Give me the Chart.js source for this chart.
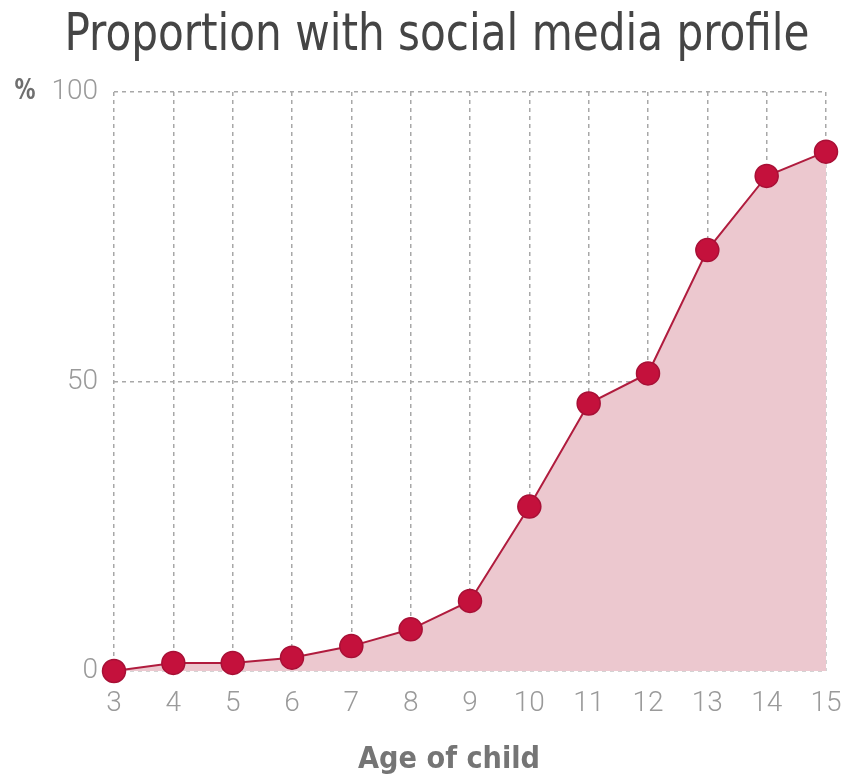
<!DOCTYPE html>
<html>
<head>
<meta charset="utf-8">
<script src="https://cdn.jsdelivr.net/npm/chart.js@4/dist/chart.umd.min.js"></script>
<style>
  html, body { margin: 0; padding: 0; background: #fff; }
  #wrap { width: 851px; height: 781px; }
</style>
</head>
<body>
<div id="wrap"><canvas id="profileChart" width="851" height="781"></canvas></div>
<script>
// 年齢ごとのSNSプロフィール保有率
const ages = ['3', '4', '5', '6', '7', '8', '9', '10', '11', '12', '13', '14', '15'];
const shares = [0, 1.4, 1.4, 2.3, 4.3, 7.2, 12.1, 28.4, 46.2, 51.4, 72.7, 85.5, 89.7];
const yTicks = [0, 50, 100];

const titleText = 'Proportion with social media profile';
const xTitleText = 'Age of child';
const narrowFont = "'Liberation Sans Narrow', 'DejaVu Sans Condensed', 'Roboto', sans-serif";
const tickFont = { size: 28, family: "'Roboto', sans-serif", weight: '300' };

// 横幅に合わせて詰めた文字を描く
function drawFitted(ctx, text, cx, baseline, width) {
    const w = ctx.measureText(text).width;
    ctx.save();
    ctx.translate(cx, baseline);
    ctx.scale(width / w, 1);
    ctx.textAlign = 'center';
    ctx.fillText(text, 0, 0);
    ctx.restore();
}

// タイトル・「%」・x軸タイトルを描くプラグイン
const headerPlugin = {
    id: 'header',
    afterDraw(chart) {
        const ctx = chart.ctx;
        const y = chart.scales.y;
        ctx.save();
        ctx.textBaseline = 'alphabetic';
        ctx.fillStyle = '#454545';
        ctx.font = '52px ' + narrowFont;
        drawFitted(ctx, titleText, 437, 50, 745);

        ctx.fillStyle = '#757575';
        ctx.font = 'bold 30px ' + narrowFont;
        drawFitted(ctx, xTitleText, 449, 768, 182);

        ctx.fillStyle = '#6f6f6f';
        ctx.font = 'bold 28px ' + narrowFont;
        ctx.textBaseline = 'middle';
        drawFitted(ctx, '%', 25, y.getPixelForValue(100), 21);
        ctx.restore();
    }
};

function createLineChart(labels, dataValues) {
    const ctx = document.getElementById('profileChart').getContext('2d');
    const gridDash = {
        color: '#a8a8a8',
        lineWidth: 1.5,
        drawTicks: false
    };
    new Chart(ctx, {
        type: 'line',
        data: {
            labels: labels,
            datasets: [{
                data: dataValues,
                borderColor: '#b01c3e',
                borderWidth: 2,
                backgroundColor: '#ecc8cf',
                fill: 'origin',
                tension: 0,
                pointRadius: 11.5,
                pointBackgroundColor: '#c4113c',
                pointBorderColor: '#a81036',
                pointBorderWidth: 1.5,
                clip: false
            }]
        },
        options: {
            responsive: false,
            animation: false,
            layout: {
                padding: { top: 92, right: 25, left: 0, bottom: 0 }
            },
            plugins: {
                legend: { display: false },
                title: { display: false },
                tooltip: { enabled: false }
            },
            scales: {
                x: {
                    border: { display: false, dash: [4, 4] },
                    grid: Object.assign({}, gridDash),
                    ticks: {
                        color: '#9a9a9a',
                        padding: 16,
                        font: tickFont
                    },
                    afterFit(scale) {
                        scale.height = 110;
                        // 端のラベル分の余白は layout.padding に任せる
                        scale.paddingLeft = 0;
                        scale.paddingRight = 0;
                    }
                },
                y: {
                    min: 0,
                    max: 100,
                    afterBuildTicks(scale) {
                        scale.ticks = yTicks.map(v => ({ value: v }));
                    },
                    border: { display: false, dash: [4, 4] },
                    grid: Object.assign({}, gridDash),
                    ticks: {
                        color: '#9a9a9a',
                        padding: 16,
                        font: tickFont
                    },
                    afterFit(scale) {
                        scale.width = 114;
                    }
                }
            }
        },
        plugins: [headerPlugin]
    });
}

createLineChart(ages, shares);
</script>
</body>
</html>
